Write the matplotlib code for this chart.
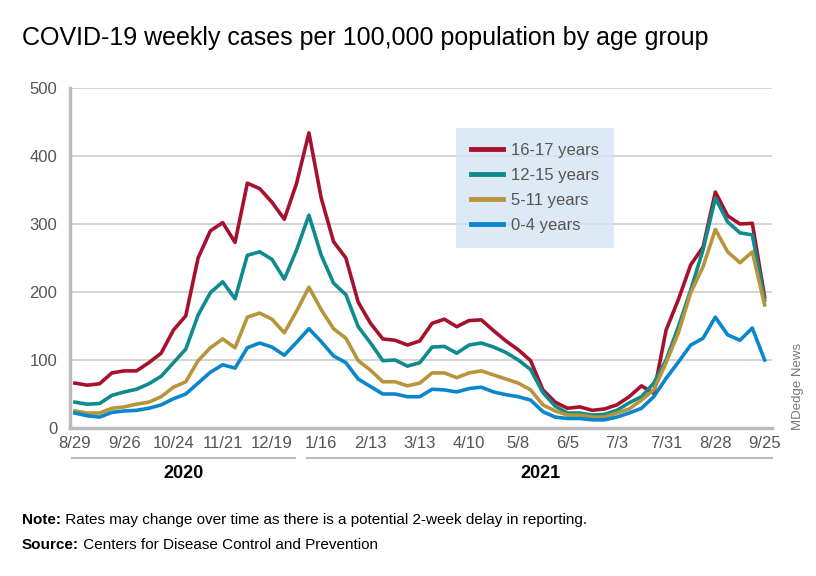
import matplotlib
matplotlib.use("Agg")
import matplotlib.pyplot as plt
from matplotlib.lines import Line2D

plt.rcParams['font.family'] = ['Liberation Sans', 'DejaVu Sans']

# -------------------------------
# Data (weekly, 8/29/2020 - 9/25/2021)
# -------------------------------
tick_labels = ["8/29", "9/26", "10/24", "11/21", "12/19", "1/16", "2/13", "3/13",
               "4/10", "5/8", "6/5", "7/3", "7/31", "8/28", "9/25"]

age_16_17 = [66, 63, 65, 81, 84, 84, 96, 110, 144, 165,
             250, 290, 302, 273, 360, 352, 332, 307, 360, 434,
             338, 274, 250, 185, 154, 131, 129, 122, 128, 154,
             160, 149, 158, 159, 143, 128, 115, 99, 56, 38,
             29, 31, 26, 28, 34, 46, 62, 51, 144, 189,
             240, 266, 347, 312, 300, 301, 193]

age_12_15 = [38, 35, 36, 48, 53, 57, 65, 76, 96, 116,
             166, 199, 215, 190, 254, 259, 248, 219, 262, 313,
             254, 213, 196, 149, 125, 99, 100, 91, 96, 119,
             120, 110, 122, 125, 119, 111, 100, 86, 52, 32,
             22, 22, 19, 20, 26, 37, 46, 66, 100, 149,
             203, 262, 338, 303, 287, 284, 188]

age_5_11 = [25, 22, 22, 29, 31, 35, 38, 46, 60, 68,
            99, 118, 131, 118, 163, 169, 160, 140, 172, 207,
            174, 146, 132, 99, 85, 68, 68, 62, 66, 81,
            81, 74, 81, 84, 78, 72, 66, 56, 34, 25,
            19, 19, 16, 16, 22, 28, 41, 56, 96, 140,
            199, 237, 292, 259, 243, 259, 181]

age_0_4 = [22, 18, 16, 23, 25, 26, 29, 34, 43, 50,
           66, 82, 93, 88, 118, 125, 119, 107, 126, 146,
           127, 106, 96, 72, 61, 50, 50, 46, 46, 57,
           56, 53, 58, 60, 53, 49, 46, 41, 24, 16,
           14, 14, 12, 12, 16, 22, 29, 46, 73, 97,
           122, 132, 163, 137, 129, 147, 100]

series = [("16-17 years", age_16_17, "#a6122d"),
          ("12-15 years", age_12_15, "#0f8b8d"),
          ("5-11 years", age_5_11, "#b8943b"),
          ("0-4 years", age_0_4, "#0a86cd")]

weeks = list(range(len(age_16_17)))

# -------------------------------
# Figure
# -------------------------------
fig = plt.figure(figsize=(8.16, 5.76), dpi=100)
ax = fig.add_axes([70 / 816, 1 - 428 / 576, (772 - 70) / 816, (428 - 88) / 576])

for label, vals, color in series:
    ax.plot(weeks, vals, color=color, lw=2.6, label=label, zorder=3)

ax.set_ylim(0, 500)
ax.set_xlim(-0.4, 56.6)
ax.set_yticks(range(0, 501, 100))
ax.set_xticks(range(0, 57, 4))
ax.set_xticklabels(tick_labels)
ax.grid(axis='y', color='#d0d0d0', lw=1.3, zorder=0)
ax.tick_params(axis='both', length=0, labelsize=12, colors='#555555')
ax.tick_params(axis='x', pad=6)
ax.tick_params(axis='y', pad=9)

for s in ['top', 'right']:
    ax.spines[s].set_visible(False)
for s in ['left', 'bottom']:
    ax.spines[s].set_color('#bbbbbb')
    ax.spines[s].set_linewidth(2.5)

# legend
handles = [Line2D([0], [0], color=c, lw=3.5) for _, _, c in series]
leg = fig.legend(handles, [s[0] for s in series], loc='upper left',
                 bbox_to_anchor=(456 / 816, 1 - 128 / 576), frameon=True,
                 fontsize=12, handlelength=1.9, handletextpad=0.5,
                 labelspacing=0.6, borderpad=0.9, borderaxespad=0,
                 fancybox=False)
leg.get_frame().set_facecolor('#d5e5f4')
leg.get_frame().set_edgecolor('none')
for t in leg.get_texts():
    t.set_color('#555555')

# year brackets
fig.add_artist(Line2D([72 / 816, 295 / 816], [1 - 458 / 576] * 2, color='#bbbbbb', lw=1.5))
fig.add_artist(Line2D([307 / 816, 772 / 816], [1 - 458 / 576] * 2, color='#bbbbbb', lw=1.5))
fig.text(183 / 816, 1 - 474 / 576, "2020", ha='center', va='center', fontsize=13, fontweight='bold')
fig.text(540 / 816, 1 - 474 / 576, "2021", ha='center', va='center', fontsize=13, fontweight='bold')

# titles and notes
fig.text(22 / 816, 1 - 38 / 576, "COVID-19 weekly cases per 100,000 population by age group",
         ha='left', va='center', fontsize=18)

renderer = fig.canvas.get_renderer()
note_lbl = fig.text(22 / 816, 1 - 520 / 576, "Note:", ha='left', va='center',
                    fontsize=11, fontweight='bold')
src_lbl = fig.text(22 / 816, 1 - 545 / 576, "Source:", ha='left', va='center',
                   fontsize=11, fontweight='bold')
for lbl, rest in [(note_lbl, " Rates may change over time as there is a potential 2-week delay in reporting."),
                  (src_lbl, " Centers for Disease Control and Prevention")]:
    bb = lbl.get_window_extent(renderer)
    fig.text(bb.x1 / 816, lbl.get_position()[1], rest, ha='left', va='center', fontsize=11)

fig.text(798 / 816, 1 - 430 / 576, "MDedge News", rotation=90, ha='center', va='bottom',
         fontsize=9.5, color='#777777')

fig.savefig("out.png", dpi=100)
